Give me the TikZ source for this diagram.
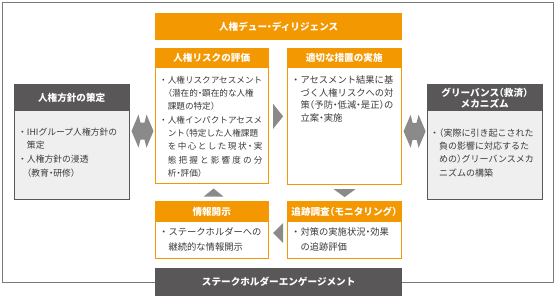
\documentclass[tikz,border=0pt]{standalone}
\usepackage{fontspec}
\setmainfont{Noto Sans CJK JP}[RawFeature=+halt]
\usetikzlibrary{calc}
\definecolor{orng}{HTML}{F39800}
\definecolor{dgray}{HTML}{595757}
\definecolor{lgray}{HTML}{EFEFEF}
\definecolor{agray}{HTML}{8A8A8A}
\definecolor{fgray}{HTML}{7A7A7A}
\definecolor{txt}{HTML}{3E3A39}
\newcommand\hfnt{\fontsize{9.6}{11}\selectfont\bfseries}
\newcommand\sprd[1]{\makebox[11em][l]{#1}}
\newcommand\bul{\makebox[1em][c]{・}}
\newcommand\ind{\hspace*{1em}}
\begin{document}
\begin{tikzpicture}[x=1pt,y=-1pt,
  ohead/.style={fill=orng,text=white,font=\hfnt,inner sep=0pt,minimum height=20pt,anchor=north west},
  obody/.style={draw=orng,line width=1.2pt,fill=white,inner sep=0pt,anchor=north west},
  dhead/.style={fill=dgray,text=white,font=\hfnt,inner sep=0pt,minimum height=27pt,anchor=north west,align=center},
  dbody/.style={draw=dgray,line width=1pt,fill=lgray,inner sep=0pt,anchor=north west},
  banner/.style={text=white,font=\hfnt,inner sep=0pt,minimum height=27pt,minimum width=247pt,anchor=north west},
  btext/.style={anchor=base west,inner sep=0pt,align=left,text=txt,text width=112pt},
  tri/.style={fill=agray,draw=none}]
\useasboundingbox (0,0) rectangle (555,296);
% outer frame
\node[draw=fgray,line width=1pt,minimum width=551pt,minimum height=280pt,inner sep=0pt,anchor=north west] (frame) at (2,2) {};
% top banner
\node[banner,fill=orng] (dd) at (155,13) {人権デュー・ディリジェンス};
% bottom banner
\node[banner,fill=dgray,minimum height=28pt] (se) at (155,268) {ステークホルダーエンゲージメント};
% box 1
\node[obody,minimum width=113pt,minimum height=135pt] (b1) at (155,48) {};
\node[ohead,minimum width=113pt] (b1h) at (155,48) {人権リスクの評価};
\node[btext,font=\fontsize{8.6}{13.3}\selectfont] (b1t) at (159,83.3) {\bul 人権リスクアセスメント\\
\ind（潜在的・顕在的な人権\\
\ind 課題の特定）\\
\bul 人権インパクトアセスメ\\
\ind ント（特定した人権課題\\
\ind\sprd{を\hfill 中\hfill 心\hfill と\hfill し\hfill た\hfill 現\hfill 状\hfill ・\hfill 実}\\
\ind\sprd{態\hfill 把\hfill 握\hfill と\hfill 影\hfill 響\hfill 度\hfill の\hfill 分}\\
\ind 析・評価）};
% box 2
\node[obody,minimum width=114pt,minimum height=136pt] (b2) at (287,48) {};
\node[ohead,minimum width=114pt] (b2h) at (287,48) {適切な措置の実施};
\node[btext,font=\fontsize{9.3}{12.8}\selectfont] (b2t) at (291,83.4) {\bul アセスメント結果に基\\
\ind づく人権リスクへの対\\
\ind 策（予防・低減・是正）の\\
\ind 立案・実施};
% box 3
\node[obody,minimum width=113pt,minimum height=57pt] (b3) at (155,201) {};
\node[ohead,minimum width=113pt,minimum height=21pt] (b3h) at (155,201) {情報開示};
\node[btext,font=\fontsize{9.3}{15}\selectfont] (b3t) at (159,235.4) {\bul ステークホルダーへの\\
\ind 継続的な情報開示};
% box 4
\node[obody,minimum width=114pt,minimum height=57pt] (b4) at (287,201) {};
\node[ohead,minimum width=114pt,minimum height=21pt] (b4h) at (287,201) {追跡調査（モニタリング）};
\node[btext,font=\fontsize{9.3}{15}\selectfont] (b4t) at (291,235.4) {\bul 対策の実施状況・効果\\
\ind の追跡評価};
% left box
\node[dbody,minimum width=115pt,minimum height=115pt] (lb) at (14,84) {};
\node[dhead,minimum width=115pt] (lbh) at (14,84) {人権方針の策定};
\node[btext,font=\fontsize{8.8}{13.6}\selectfont] (lbt) at (18,135.4) {\bul IHIグループ人権方針の\\
\ind 策定\\
\bul 人権方針の浸透\\
\ind（教育・研修）};
% right box
\node[dbody,minimum width=115pt,minimum height=115pt] (rb) at (427,84) {};
\node[dhead,minimum width=115pt,font=\fontsize{9.6}{11}\selectfont\bfseries] (rbh) at (427,84) {グリーバンス（救済）\\メカニズム};
\node[btext,font=\fontsize{9}{13.3}\selectfont] (rbt) at (430,136.4) {\bul（実際に引き起こされた\\
\ind 負の影響に対応するた\\
\ind めの）グリーバンスメカ\\
\ind ニズムの構築};
% cycle arrows
\coordinate (r1) at ($(b1.east)!0.5!(b2.west)$);
\fill[tri] ($(r1)+(-5,-12.5)$) -- ($(r1)+(5,0)$) -- ($(r1)+(-5,12.5)$) -- cycle;
\coordinate (d1) at ($(b2.south)!0.5!(b4.north)$);
\fill[tri] ($(d1)+(-11,-4)$) -- ($(d1)+(11,-4)$) -- ($(d1)+(0,4)$) -- cycle;
\coordinate (l1) at ($(b4.west)!0.5!(b3.east)$);
\fill[tri] ($(l1)+(5,-10)+(0,3)$) -- ($(l1)+(-5,0)+(0,3)$) -- ($(l1)+(5,10)+(0,3)$) -- cycle;
\coordinate (u1) at ($(b3.north)!0.5!(b1.south)$);
\fill[tri] ($(u1)+(-10,4)+(1.5,0)$) -- ($(u1)+(0,-4)+(1.5,0)$) -- ($(u1)+(10,4)+(1.5,0)$) -- cycle;
% double arrows
\foreach \a/\b/\n in {lb/b1/la, b2/rb/ra}{
  \coordinate (\n) at ($(\a.east)!0.5!(\b.west)+(0,2)$);
  \fill[tri] ($(\n)+(-11,0)$) -- ($(\n)+(-4,-16.5)$) -- ($(\n)+(-2,-8.5)$) -- ($(\n)+(2,-8.5)$) -- ($(\n)+(4,-16.5)$) -- ($(\n)+(11,0)$) -- ($(\n)+(4,16.5)$) -- ($(\n)+(2,8.5)$) -- ($(\n)+(-2,8.5)$) -- ($(\n)+(-4,16.5)$) -- cycle;
}
\end{tikzpicture}
\end{document}
